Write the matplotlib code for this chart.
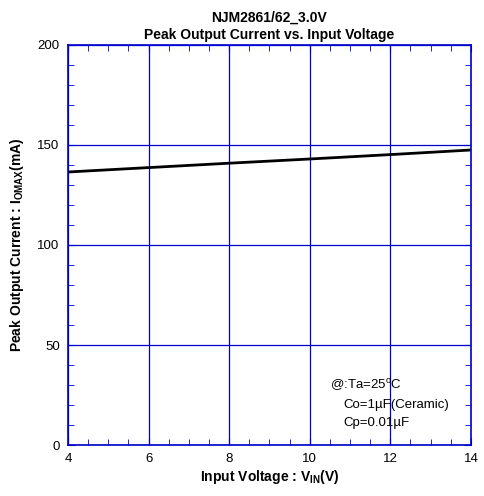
import numpy as np
import matplotlib
matplotlib.use("Agg")
import matplotlib.pyplot as plt
from matplotlib.ticker import MultipleLocator

plt.rcParams['font.family'] = ['Liberation Sans', 'DejaVu Sans']
plt.rcParams['mathtext.fontset'] = 'custom'
plt.rcParams['mathtext.rm'] = 'Liberation Sans'
plt.rcParams['mathtext.bf'] = 'Liberation Sans:bold'

# data
vin = [4, 6, 8, 10, 12, 14]
iomax = [136.5, 138.7, 140.9, 143.0, 145.2, 147.5]

blue = '#0000cc'

fig = plt.figure(figsize=(4.84, 4.96), dpi=100)
ax = fig.add_axes([0.1405, 0.1028, 0.8325, 0.8065])

ax.plot(vin, iomax, color='black', linewidth=2.0)

ax.set_xlim(4, 14)
ax.set_ylim(0, 200)
ax.xaxis.set_major_locator(MultipleLocator(2))
ax.xaxis.set_minor_locator(MultipleLocator(0.5))
ax.yaxis.set_major_locator(MultipleLocator(50))
ax.yaxis.set_minor_locator(MultipleLocator(10))
ax.grid(True, which='major', color=blue, linewidth=0.9)
for s in ax.spines.values():
    s.set_color(blue)
    s.set_linewidth(1.2)
ax.tick_params(which='both', direction='in', color=blue, top=True, right=True,
               labelsize=9.5, pad=6)
ax.tick_params(which='major', length=5)
ax.tick_params(which='minor', length=4)

ax.set_title("NJM2861/62_3.0V\nPeak Output Current vs. Input Voltage",
             fontsize=10, fontweight='bold', pad=4, linespacing=1.3)
ax.set_xlabel(r"Input Voltage : V$_{\mathbf{IN}}$(V)", fontsize=10, fontweight='bold', labelpad=2)
ax.set_ylabel(r"Peak Output Current : I$_{\mathbf{OMAX}}$(mA)", fontsize=10, fontweight='bold', labelpad=8)

ax.text(0.651, 0.14, "@:Ta=25$^{\\rm o}$C", transform=ax.transAxes, fontsize=9.5)
ax.text(0.683, 0.092, "Co=1\u00b5F(Ceramic)", transform=ax.transAxes, fontsize=9.5)
ax.text(0.683, 0.048, "Cp=0.01\u00b5F", transform=ax.transAxes, fontsize=9.5)

fig.savefig("out.png", dpi=100)
